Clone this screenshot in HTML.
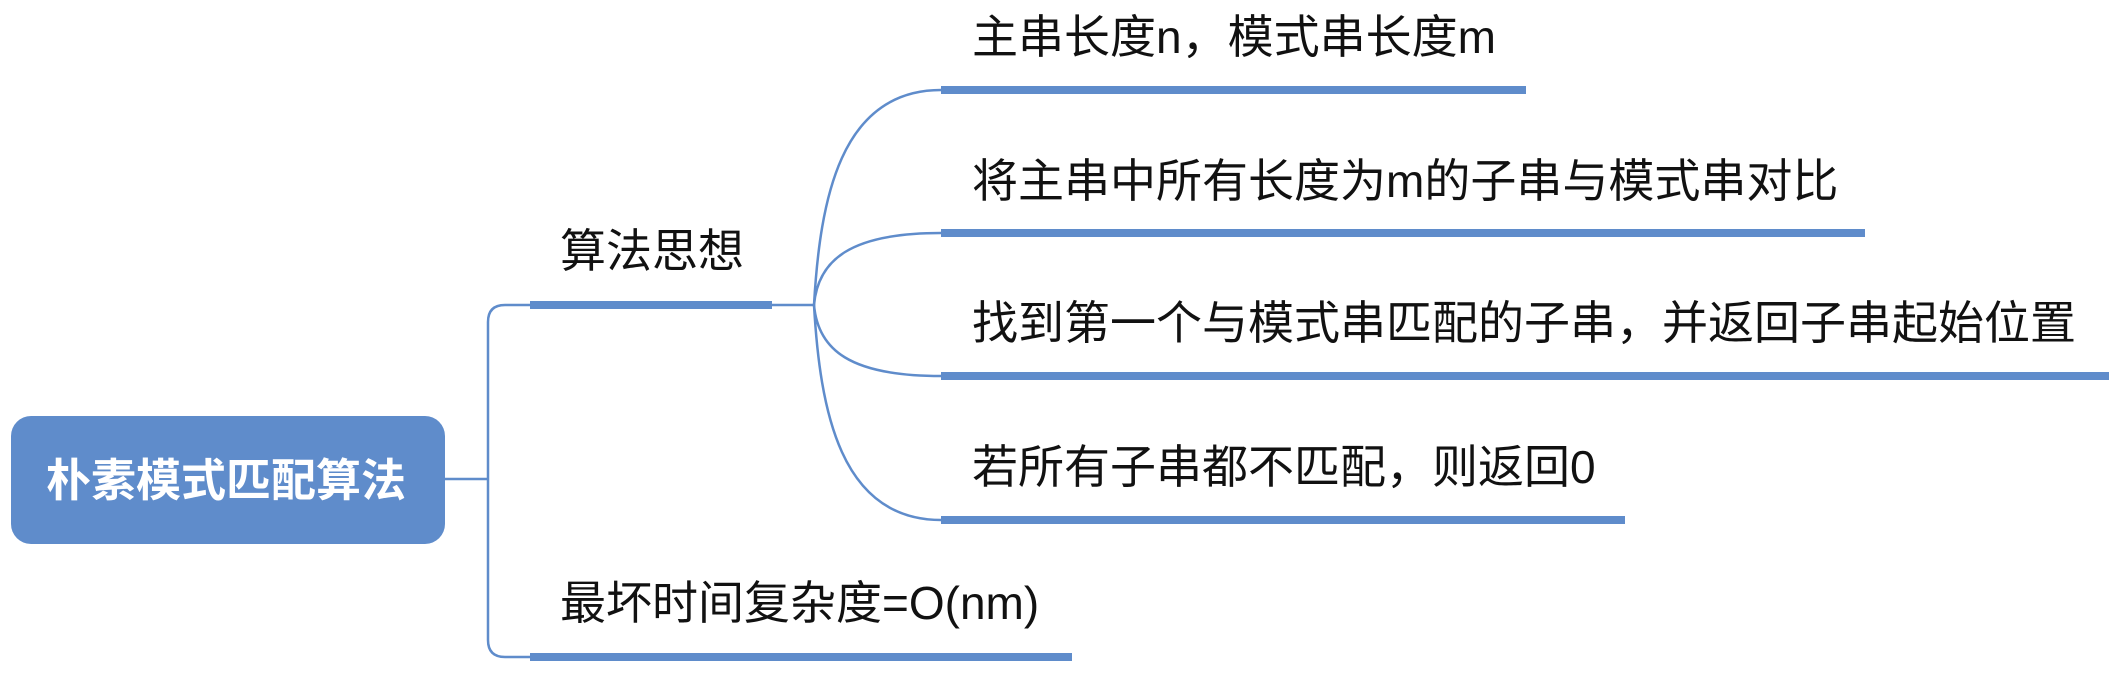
<!DOCTYPE html>
<html><head><meta charset="utf-8"><style>
html,body{margin:0;padding:0;background:#fff;}
svg{display:block}
text{font-family:"Liberation Sans","Noto Sans CJK SC",sans-serif;}
</style></head><body>
<svg width="2116" height="681" viewBox="0 0 2116 681" xmlns="http://www.w3.org/2000/svg">
<g fill="none" stroke="#5f8ccb" stroke-width="2.5">
<path d="M445,479 H488"/>
<path d="M530,305 H505 Q488,305 488,322 V640 Q488,657 505,657 H530"/>
<path d="M772,305 H814"/>
<path d="M814,305 C820,200 840,90 941,90"/>
<path d="M814,305 C818,260 850,233 941,233"/>
<path d="M814,305 C818,350 850,376 941,376"/>
<path d="M814,305 C820,410 840,520 941,520"/>
</g>
<g fill="#5f8ccb">
<rect x="11" y="416" width="434" height="128" rx="20"/>
<rect x="530" y="301" width="242" height="8"/>
<rect x="530" y="653" width="542" height="8"/>
<rect x="941" y="86" width="585" height="8"/>
<rect x="941" y="229" width="924" height="8"/>
<rect x="941" y="372" width="1168" height="8"/>
<rect x="941" y="516" width="684" height="8"/>
</g>
<text x="226" y="496" fill="#fff" font-size="45" font-weight="bold" text-anchor="middle">朴素模式匹配算法</text>
<g fill="#111" font-size="46">
<text x="560" y="267">算法思想</text>
<text x="560" y="619">最坏时间复杂度=O(nm)</text>
</g>
<g fill="#111" font-size="46">
<text x="972" y="53">主串长度n，模式串长度m</text>
<text x="972" y="197">将主串中所有长度为m的子串与模式串对比</text>
<text x="972" y="339">找到第一个与模式串匹配的子串，并返回子串起始位置</text>
<text x="972" y="483">若所有子串都不匹配，则返回0</text>
</g>
</svg>
</body></html>
